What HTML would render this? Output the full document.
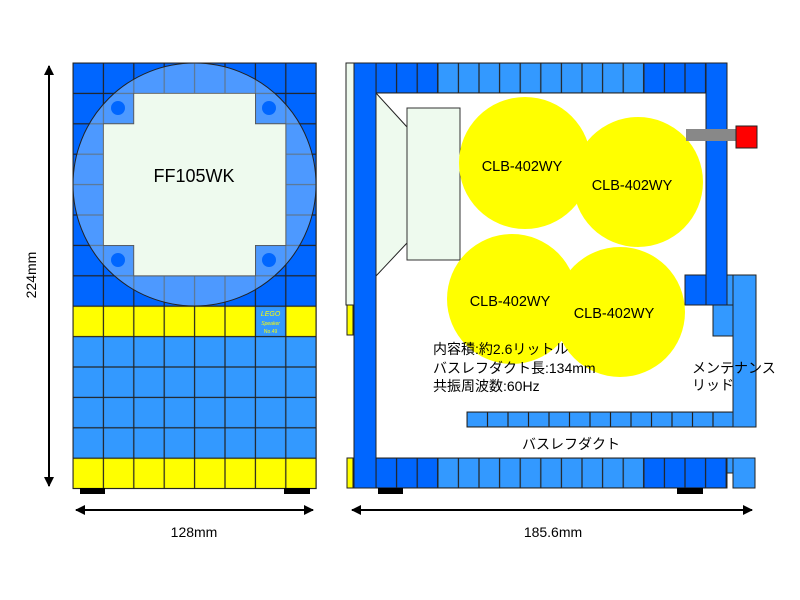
<!DOCTYPE html>
<html><head><meta charset="utf-8"><style>body{margin:0;background:#fff}svg{display:block}text{font-family:"Liberation Sans","Noto Sans CJK JP",sans-serif}</style></head><body>
<svg width="800" height="600" viewBox="0 0 800 600" xmlns="http://www.w3.org/2000/svg">
<defs>
<marker id="a" markerWidth="10" markerHeight="10" refX="9" refY="5" orient="auto-start-reverse" markerUnits="userSpaceOnUse"><path d="M0,0 L10,5 L0,10 z" fill="#000"/></marker>
<pattern id="g" patternUnits="userSpaceOnUse" x="73" y="63" width="30.4" height="30.4"><rect x="0" y="0" width="30.4" height="30.4" fill="none" stroke="#222" stroke-width="1.2"/></pattern>
<pattern id="h" patternUnits="userSpaceOnUse" x="376" y="63" width="20.6" height="30"><rect x="0" y="0" width="20.6" height="30" fill="none" stroke="#222" stroke-width="1.2"/></pattern>
<pattern id="b" patternUnits="userSpaceOnUse" x="376" y="458" width="20.6" height="30"><rect x="0" y="0" width="20.6" height="30" fill="none" stroke="#222" stroke-width="1.2"/></pattern>
<pattern id="d" patternUnits="userSpaceOnUse" x="467" y="412" width="20.5" height="15"><rect x="0" y="0" width="20.5" height="15" fill="none" stroke="#222" stroke-width="1.2"/></pattern>
</defs>
<rect x="73" y="63" width="243.2" height="243.2" fill="#0066ff"/>
<rect x="73" y="306.2" width="243.2" height="30.4" fill="#ffff00"/>
<rect x="73" y="336.6" width="243.2" height="121.6" fill="#3399ff"/>
<rect x="73" y="458.2" width="243.2" height="30.4" fill="#ffff00"/>
<rect x="255.4" y="306.2" width="30.4" height="30.4" fill="#3399ff"/>
<rect x="73" y="63" width="243.2" height="425.6" fill="url(#g)" stroke="#222"/>
<text x="270.6" y="316" font-size="7" fill="#ffff00" font-style="italic" text-anchor="middle">LEGO</text>
<text x="270.6" y="325" font-size="5" fill="#ffff00" font-style="italic" text-anchor="middle">Speaker</text>
<text x="270.6" y="333" font-size="5" fill="#ffff00" text-anchor="middle">No.49</text>
<circle cx="194.5" cy="184.5" r="121.5" fill="#99ccff" fill-opacity="0.5" stroke="#222" stroke-width="1"/>
<path d="M133.8,93.4 H255.4 V123.8 H285.8 V245.4 H255.4 V275.8 H133.8 V245.4 H103.4 V123.8 H133.8 Z" fill="#eefaee" stroke="#555" stroke-width="0.8"/>
<g fill="#0066ff"><circle cx="118" cy="108" r="7"/><circle cx="269" cy="108" r="7"/><circle cx="118" cy="260" r="7"/><circle cx="269" cy="260" r="7"/></g>
<text x="194" y="182" font-size="18" text-anchor="middle">FF105WK</text>
<rect x="80" y="488" width="25" height="6" fill="#000"/><rect x="284" y="488" width="26" height="6" fill="#000"/>
<line x1="49" y1="66" x2="49" y2="486" stroke="#000" stroke-width="2" marker-start="url(#a)" marker-end="url(#a)"/>
<text x="36" y="275" font-size="14" text-anchor="middle" transform="rotate(-90 36 275)">224mm</text>
<line x1="76" y1="510" x2="313" y2="510" stroke="#000" stroke-width="2" marker-start="url(#a)" marker-end="url(#a)"/>
<text x="194" y="537" font-size="14" text-anchor="middle">128mm</text>

<g stroke="#222" stroke-width="1">
<rect x="346" y="63" width="8" height="242" fill="#eefaee"/>
<rect x="347" y="305" width="6" height="30" fill="#ffff00"/>
<rect x="347" y="458" width="6" height="30" fill="#ffff00"/>
<rect x="354" y="63" width="22" height="425" fill="#0066ff"/>
<rect x="376" y="63" width="61.8" height="30" fill="#0066ff"/>
<rect x="437.8" y="63" width="206" height="30" fill="#3399ff"/>
<rect x="643.8" y="63" width="62.2" height="30" fill="#0066ff"/>
<rect x="376" y="63" width="330" height="30" fill="url(#h)"/>
<rect x="376" y="458" width="61.8" height="30" fill="#0066ff"/>
<rect x="437.8" y="458" width="206" height="30" fill="#3399ff"/>
<rect x="643.8" y="458" width="83.2" height="30" fill="#0066ff"/>
<rect x="376" y="458" width="351" height="30" fill="url(#b)"/>
<rect x="467" y="412" width="266" height="15" fill="#3399ff"/>
<rect x="467" y="412" width="266" height="15" fill="url(#d)"/>
<rect x="706" y="63" width="21" height="242" fill="#0066ff"/>
<rect x="685" y="275" width="21" height="30" fill="#0066ff"/>
<rect x="727" y="275" width="6" height="30" fill="#3399ff"/>
<rect x="733" y="275" width="23" height="152" fill="#3399ff"/>
<rect x="713" y="305" width="20" height="31" fill="#3399ff"/>
<rect x="727" y="458" width="6" height="15" fill="#3399ff"/>
<rect x="733" y="458" width="22" height="30" fill="#3399ff"/>
</g>
<path d="M376,93 L407,127 L407,243 L376,276 Z" fill="#eefaee" stroke="#222" stroke-width="1"/>
<rect x="407" y="108" width="53" height="152" fill="#eefaee" stroke="#333" stroke-width="1"/>
<g fill="#ffff00">
<circle cx="525" cy="163" r="66"/><circle cx="638" cy="182" r="65"/>
<circle cx="512" cy="299" r="65"/><circle cx="620" cy="312" r="65"/>
</g>
<g font-size="14.5" text-anchor="middle">
<text x="522" y="171">CLB-402WY</text><text x="632" y="190">CLB-402WY</text>
<text x="510" y="306">CLB-402WY</text><text x="614" y="318">CLB-402WY</text>
</g>
<rect x="686" y="129" width="51" height="12" fill="#888"/>
<rect x="736" y="126" width="21" height="22" fill="#ff0000" stroke="#222"/>
<g font-size="14">
<text x="433" y="354">内容積:約2.6リットル</text>
<text x="433" y="373">バスレフダクト長:134mm</text>
<text x="433" y="391">共振周波数:60Hz</text>
<text x="692" y="373">メンテナンス</text>
<text x="692" y="390">リッド</text>
<text x="522" y="449">バスレフダクト</text>
</g>
<rect x="378" y="488" width="25" height="6" fill="#000"/><rect x="677" y="488" width="26" height="6" fill="#000"/>
<line x1="352" y1="510" x2="752" y2="510" stroke="#000" stroke-width="2" marker-start="url(#a)" marker-end="url(#a)"/>
<text x="553" y="537" font-size="14" text-anchor="middle">185.6mm</text>
</svg>
</body></html>
